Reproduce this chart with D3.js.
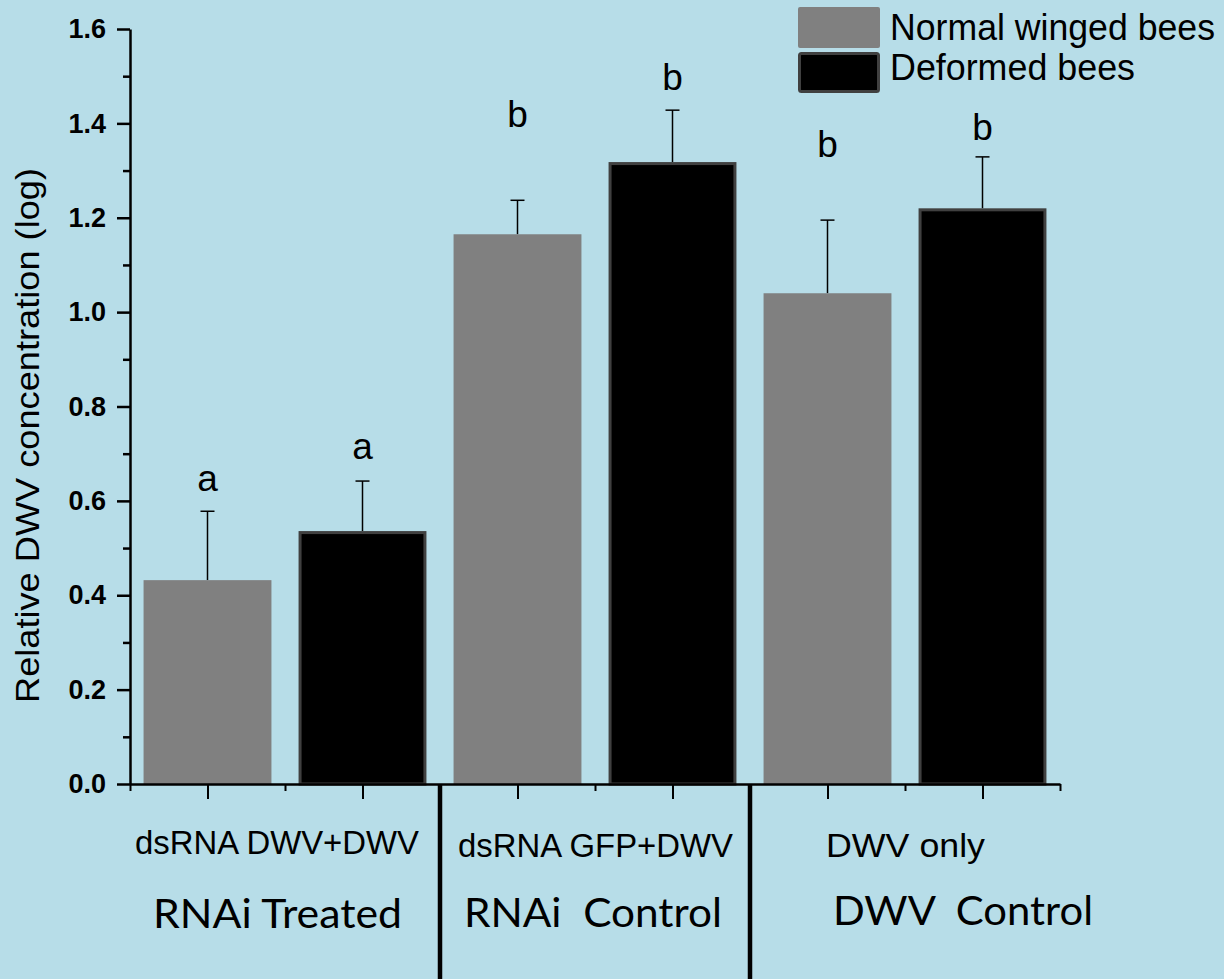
<!DOCTYPE html>
<html>
<head>
<meta charset="utf-8">
<script src="https://cdn.jsdelivr.net/npm/d3@7"></script>
<style>
html,body{margin:0;padding:0;background:#b7dde8;}
svg{display:block;}
</style>
</head>
<body>
<svg id="chart" width="1224" height="979"></svg>
<script>
// ---- data ----
const groups = ["dsRNA DWV+DWV", "dsRNA GFP+DWV", "DWV only"];
const groupTitles = ["RNAi Treated", "RNAi  Control", "DWV  Control"];
const seriesNames = ["Normal winged bees", "Deformed bees"];
const normalValues = [0.432, 1.165, 1.040];
const normalErrors = [0.146, 0.072, 0.155];
const deformedValues = [0.536, 1.318, 1.220];
const deformedErrors = [0.106, 0.110, 0.109];
const normalLetters = ["a", "b", "b"];
const deformedLetters = ["a", "b", "b"];
const normalLetterAt = [0.621, 1.392, 1.328];
const deformedLetterAt = [0.689, 1.470, 1.364];
const yMajorTicks = [0.0, 0.2, 0.4, 0.6, 0.8, 1.0, 1.2, 1.4, 1.6];
const yMinorTicks = [0.1, 0.3, 0.5, 0.7, 0.9, 1.1, 1.3, 1.5];

// ---- layout ----
const svg = d3.select("#chart");
svg.append("rect").attr("width", 1224).attr("height", 979).attr("fill", "#b7dde8");

const x = d3.scaleLinear().domain([0, 12]).range([130, 1060]);
const y = d3.scaleLinear().domain([0, 1.6]).range([784, 29]);
const barUnits = 1.65;

const bars = [];
groups.forEach((g, i) => {
  bars.push({g: i, s: 0, v: normalValues[i], e: normalErrors[i], l: normalLetters[i], la: normalLetterAt[i]});
  bars.push({g: i, s: 1, v: deformedValues[i], e: deformedErrors[i], l: deformedLetters[i], la: deformedLetterAt[i]});
});
const center = d => x(4 * d.g + 1 + 2 * d.s);
const halfW = (x(barUnits) - x(0)) / 2;

// error bars
const eb = svg.append("g").attr("stroke", "#000").attr("stroke-width", 1.5);
eb.selectAll("line.stem").data(bars).join("line")
  .attr("x1", center).attr("x2", center)
  .attr("y1", d => y(d.v)).attr("y2", d => y(d.v + d.e));
eb.selectAll("line.cap").data(bars).join("line")
  .attr("x1", d => center(d) - 7).attr("x2", d => center(d) + 7)
  .attr("y1", d => y(d.v + d.e)).attr("y2", d => y(d.v + d.e));

// bars
svg.append("g").selectAll("rect").data(bars).join("rect")
  .attr("x", d => d.s === 0 ? center(d) - halfW : center(d) - halfW + 1.5)
  .attr("width", d => d.s === 0 ? 2 * halfW : 2 * halfW - 3)
  .attr("y", d => d.s === 0 ? y(d.v) : y(d.v) + 1.5)
  .attr("height", d => d.s === 0 ? y(0) - y(d.v) : y(0) - y(d.v) - 1.5)
  .attr("fill", d => d.s === 0 ? "#808080" : "#000000")
  .attr("stroke", d => d.s === 0 ? "none" : "#404040")
  .attr("stroke-width", 3);

// significance letters
svg.append("g").selectAll("text").data(bars).join("text")
  .attr("x", center).attr("y", d => y(d.la))
  .attr("text-anchor", "middle")
  .attr("font-family", "Liberation Sans, Arial, sans-serif")
  .attr("font-size", 37)
  .text(d => d.l);

// y axis minor ticks
const yMinor = svg.append("g").attr("transform", "translate(130,0)")
  .call(d3.axisLeft(y).tickValues(yMinorTicks).tickSize(7).tickFormat(""));
yMinor.select(".domain").remove();
yMinor.selectAll("line").attr("stroke-width", 2.5);

// y axis major
const yAxis = svg.append("g").attr("transform", "translate(130,0)")
  .call(d3.axisLeft(y).tickValues(yMajorTicks).tickSize(13).tickSizeOuter(0).tickPadding(11).tickFormat(d3.format(".1f")));
yAxis.select(".domain").attr("stroke-width", 2.5);
yAxis.selectAll("line").attr("stroke-width", 2.5);
yAxis.selectAll("text")
  .attr("font-family", "Liberation Sans, Arial, sans-serif")
  .attr("font-weight", "bold")
  .attr("font-size", 27)
  .attr("fill", "#000");

// x axis: minor ticks at even positions, major at bar centers
const xMinor = svg.append("g").attr("transform", "translate(0,784)")
  .call(d3.axisBottom(x).tickValues([0, 2, 4, 6, 8, 10, 12]).tickSize(7).tickFormat(""));
xMinor.select(".domain").remove();
xMinor.selectAll("line").attr("stroke-width", 2);
const xAxis = svg.append("g").attr("transform", "translate(0,784)")
  .call(d3.axisBottom(x).tickValues([1, 3, 5, 7, 9, 11]).tickSize(15).tickSizeOuter(0).tickFormat(""));
xAxis.select(".domain").attr("stroke-width", 2.5);
xAxis.selectAll("line").attr("stroke-width", 2);

// group separators
svg.append("g").selectAll("line").data([4, 8]).join("line")
  .attr("x1", d => x(d)).attr("x2", d => x(d))
  .attr("y1", y(0)).attr("y2", 979)
  .attr("stroke", "#000").attr("stroke-width", 4.5);

// group labels
const subLabelPos = [[135, 854, 284], [458, 857, 275], [826, 857, 159]];
svg.append("g").selectAll("text").data(groups).join("text")
  .attr("x", (d, i) => subLabelPos[i][0]).attr("y", (d, i) => subLabelPos[i][1])
  .attr("textLength", (d, i) => subLabelPos[i][2]).attr("lengthAdjust", "spacingAndGlyphs")
  .attr("font-family", "Liberation Sans, Arial, sans-serif")
  .attr("font-size", 33)
  .text(d => d);

const titlePos = [[153, 928, 249], [464, 927, 258], [833, 925, 260]];
svg.append("g").selectAll("text").data(groupTitles).join("text")
  .attr("x", (d, i) => titlePos[i][0]).attr("y", (d, i) => titlePos[i][1])
  .attr("textLength", (d, i) => titlePos[i][2]).attr("lengthAdjust", "spacingAndGlyphs")
  .style("white-space", "pre")
  .attr("font-family", "Lato, 'Open Sans', sans-serif")
  .attr("font-size", 41)
  .text(d => d);

// y label
svg.append("text")
  .attr("transform", "translate(39,435.5) rotate(-90)")
  .attr("text-anchor", "middle")
  .attr("textLength", 535).attr("lengthAdjust", "spacingAndGlyphs")
  .attr("font-family", "Liberation Sans, Arial, sans-serif")
  .attr("font-size", 33)
  .text("Relative DWV concentration (log)");

// legend
const lg = svg.append("g");
lg.append("rect").attr("x", 798).attr("y", 7).attr("width", 82).attr("height", 41)
  .attr("rx", 2).attr("fill", "#808080");
lg.append("rect").attr("x", 799.5).attr("y", 53.5).attr("width", 79).attr("height", 38)
  .attr("rx", 2).attr("fill", "#000").attr("stroke", "#404040").attr("stroke-width", 3);
lg.selectAll("text").data(seriesNames).join("text")
  .attr("x", 890).attr("y", (d, i) => 40 + 40 * i)
  .attr("textLength", (d, i) => i === 0 ? 325 : 245).attr("lengthAdjust", "spacingAndGlyphs")
  .attr("font-family", "Liberation Sans, Arial, sans-serif")
  .attr("font-size", 36)
  .text(d => d);
</script>
</body>
</html>
